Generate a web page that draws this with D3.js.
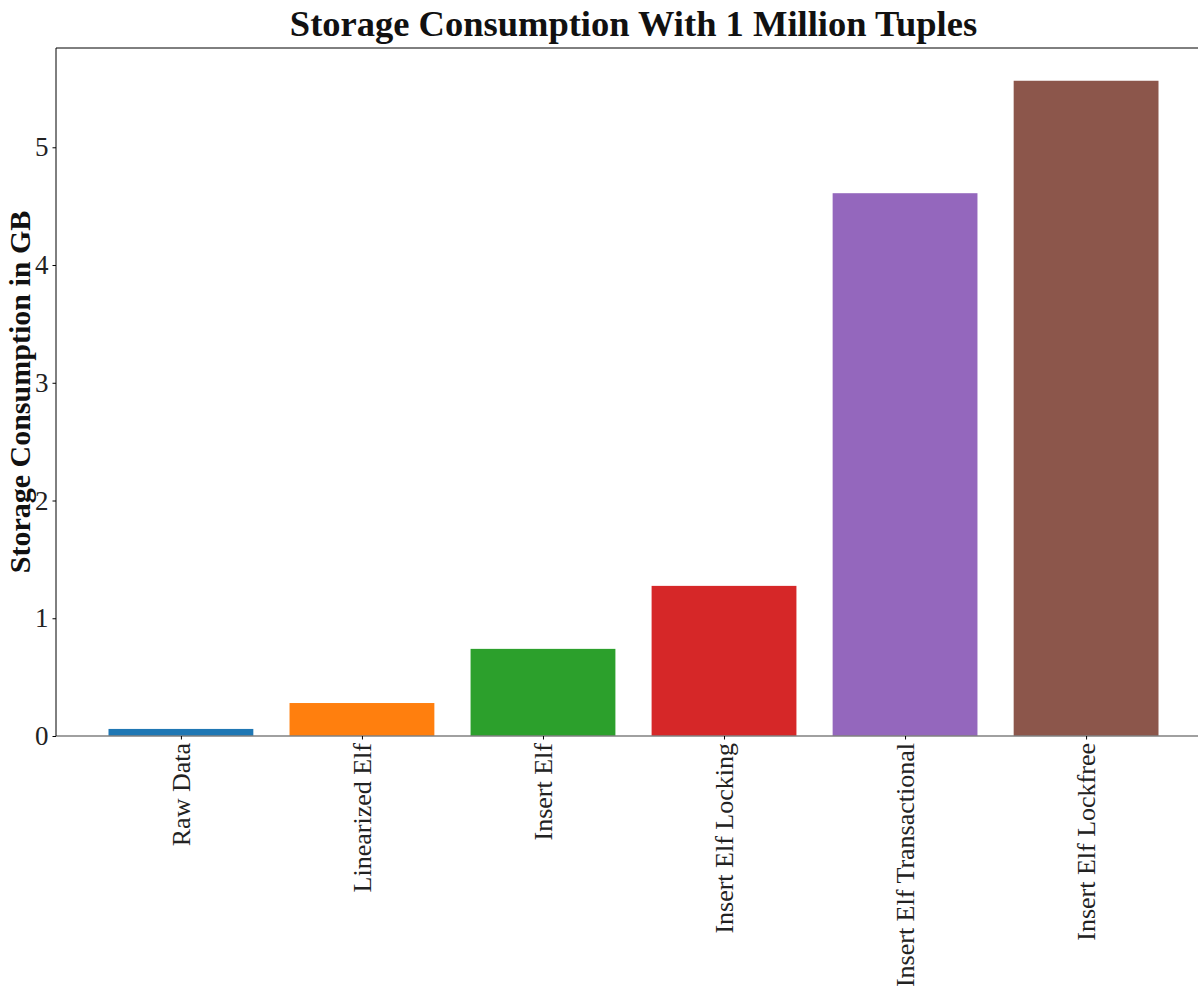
<!DOCTYPE html>
<html>
<head>
<meta charset="utf-8">
<script src="https://cdn.jsdelivr.net/npm/d3@7.9.0/dist/d3.min.js"></script>
<style>
  html, body { margin: 0; padding: 0; background: #fff; }
  svg { display: block; font-family: "Liberation Serif", "DejaVu Serif", serif; }
</style>
</head>
<body>
<svg id="chart" width="1198" height="989"></svg>
<script>
const categories = ["Raw Data", "Linearized Elf", "Insert Elf", "Insert Elf Locking", "Insert Elf Transactional", "Insert Elf Lockfree"];
const storageGB = [0.06, 0.28, 0.74, 1.275, 4.61, 5.565];
const barColors = ["#1f77b4", "#ff7f0e", "#2ca02c", "#d62728", "#9467bd", "#8c564b"];
const yTicks = [0, 1, 2, 3, 4, 5];

const margin = { top: 48, left: 56, right: 1211, bottom: 736 };
const svg = d3.select("#chart");

// matplotlib style limits: bar width 0.8 plus 5% margins
const barWidth = 0.8;
const xPad = (categories.length - 1 + barWidth) * 0.05;
const x = d3.scaleLinear()
  .domain([-barWidth / 2 - xPad, categories.length - 1 + barWidth / 2 + xPad])
  .range([margin.left, margin.right]);
const y = d3.scaleLinear()
  .domain([0, d3.max(storageGB) * 1.05])
  .range([margin.bottom, margin.top]);

// bars
svg.append("g")
  .selectAll("rect")
  .data(storageGB)
  .join("rect")
  .attr("x", (d, i) => x(i - barWidth / 2))
  .attr("width", (d, i) => x(i + barWidth / 2) - x(i - barWidth / 2))
  .attr("y", (d) => y(d))
  .attr("height", (d) => y(0) - y(d))
  .attr("fill", (d, i) => barColors[i]);

// zero line (gray)
svg.append("line")
  .attr("x1", margin.left).attr("x2", margin.right)
  .attr("y1", y(0)).attr("y2", y(0))
  .attr("stroke", "#808080").attr("stroke-width", 1.5);

// spines
svg.append("line")
  .attr("x1", margin.left).attr("x2", margin.left)
  .attr("y1", margin.top).attr("y2", margin.bottom)
  .attr("stroke", "#000").attr("stroke-width", 1);
svg.append("line")
  .attr("x1", margin.left).attr("x2", margin.right)
  .attr("y1", margin.top).attr("y2", margin.top)
  .attr("stroke", "#000").attr("stroke-width", 1);

// y axis
const yAxis = svg.append("g")
  .attr("transform", `translate(${margin.left},0)`)
  .call(d3.axisLeft(y).tickValues(yTicks).tickSize(3.5).tickPadding(4).tickFormat(d3.format("d")));
yAxis.select(".domain").remove();
yAxis.selectAll(".tick line").attr("stroke", "#000");
yAxis.selectAll(".tick text")
  .attr("fill", "#222")
  .style("font-family", "'Liberation Serif', serif")
  .style("font-size", "27px");

// x axis
const xAxis = svg.append("g")
  .attr("transform", `translate(0,${margin.bottom})`)
  .call(d3.axisBottom(x).tickValues(d3.range(categories.length)).tickSize(3.5).tickFormat((i) => categories[i]));
xAxis.select(".domain").remove();
xAxis.selectAll(".tick line").attr("stroke", "#000");
xAxis.selectAll(".tick text")
  .attr("fill", "#222")
  .style("font-family", "'Liberation Serif', serif")
  .style("font-size", "26px")
  .attr("text-anchor", "end")
  .attr("transform", "rotate(-90)")
  .attr("x", -7)
  .attr("y", 0)
  .attr("dy", "0.33em");

// title
svg.append("text")
  .attr("x", (margin.left + margin.right) / 2)
  .attr("y", 36)
  .attr("text-anchor", "middle")
  .style("font-size", "36.5px")
  .style("font-weight", "bold")
  .attr("fill", "#111")
  .text("Storage Consumption With 1 Million Tuples");

// y label
svg.append("text")
  .attr("transform", `translate(30,${(margin.top + margin.bottom) / 2}) rotate(-90)`)
  .attr("text-anchor", "middle")
  .style("font-size", "30px")
  .style("font-weight", "bold")
  .attr("fill", "#111")
  .text("Storage Consumption in GB");
</script>
</body>
</html>
